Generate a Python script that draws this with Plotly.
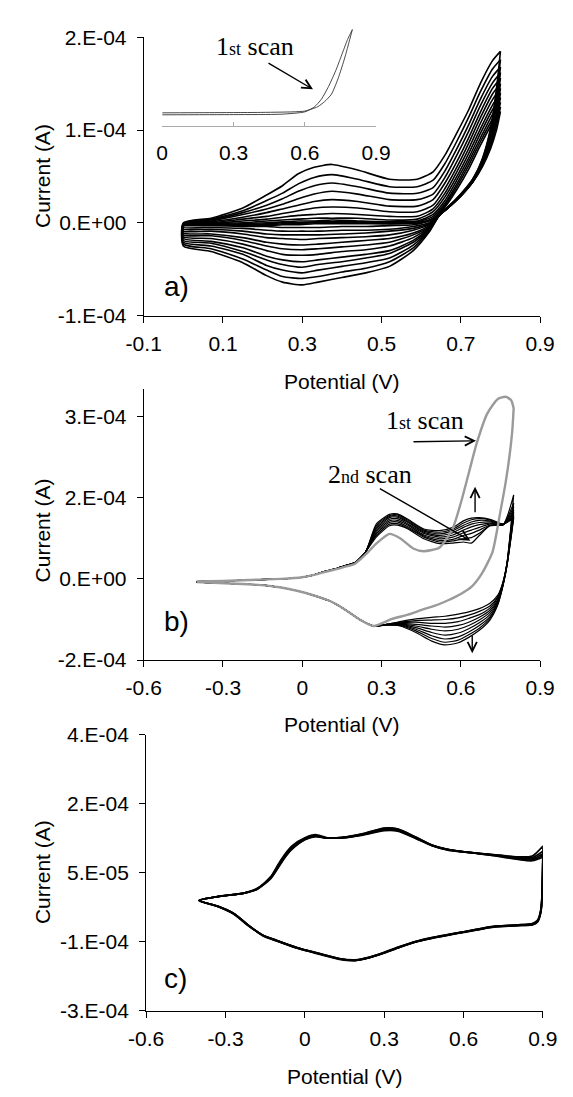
import plotly.graph_objects as go

W, H = 573, 1097

# ================= DATA (currents in units of 1e-4 A) =================
# ---- panel a : 12 successive cycles 0 -> 0.8 V ----
E_a_fwd = [0.0, 0.07, 0.15, 0.21, 0.25, 0.29, 0.33, 0.375, 0.44, 0.52, 0.59,
           0.63, 0.66, 0.69, 0.72, 0.75, 0.78, 0.8]
E_a_rev = [0.8, 0.79, 0.775, 0.755, 0.73, 0.70, 0.67, 0.65,
           0.62, 0.58, 0.52, 0.46, 0.40, 0.34, 0.30, 0.25, 0.21, 0.15, 0.07, 0.0]
I_a_fwd = [
    [-0.03, -0.03, -0.03, -0.03, -0.02, -0.02, -0.01, -0.01, -0.01, -0.01, 0.0, 0.04, 0.17, 0.36, 0.58, 0.84, 1.08, 1.20],
    [-0.03, -0.02, -0.02, -0.02, -0.01, -0.01, 0.0, 0.0, 0.0, -0.01, 0.0, 0.05, 0.19, 0.39, 0.62, 0.88, 1.12, 1.25],
    [-0.03, -0.02, -0.02, -0.01, 0.0, 0.0, 0.01, 0.01, 0.01, 0.0, 0.01, 0.07, 0.21, 0.42, 0.66, 0.92, 1.17, 1.30],
    [-0.03, -0.02, -0.01, 0.0, 0.01, 0.02, 0.02, 0.03, 0.02, 0.01, 0.02, 0.09, 0.24, 0.46, 0.70, 0.97, 1.22, 1.35],
    [-0.03, -0.01, 0.0, 0.02, 0.03, 0.04, 0.05, 0.05, 0.05, 0.03, 0.04, 0.12, 0.28, 0.50, 0.75, 1.02, 1.27, 1.40],
    [-0.03, -0.01, 0.02, 0.04, 0.06, 0.08, 0.09, 0.10, 0.09, 0.07, 0.07, 0.15, 0.32, 0.55, 0.80, 1.08, 1.33, 1.45],
    [-0.02, 0.0, 0.04, 0.07, 0.10, 0.13, 0.16, 0.17, 0.16, 0.12, 0.12, 0.19, 0.37, 0.60, 0.86, 1.14, 1.39, 1.50],
    [-0.02, 0.01, 0.06, 0.11, 0.15, 0.19, 0.23, 0.25, 0.23, 0.18, 0.18, 0.25, 0.43, 0.66, 0.92, 1.20, 1.45, 1.56],
    [-0.02, 0.02, 0.09, 0.15, 0.20, 0.26, 0.31, 0.34, 0.31, 0.25, 0.25, 0.31, 0.49, 0.73, 0.99, 1.27, 1.51, 1.62],
    [-0.01, 0.03, 0.11, 0.19, 0.26, 0.34, 0.40, 0.43, 0.39, 0.32, 0.32, 0.38, 0.56, 0.80, 1.06, 1.34, 1.58, 1.68],
    [-0.01, 0.04, 0.13, 0.24, 0.32, 0.42, 0.49, 0.52, 0.47, 0.39, 0.39, 0.46, 0.64, 0.88, 1.14, 1.42, 1.66, 1.76],
    [0.0, 0.05, 0.16, 0.30, 0.40, 0.53, 0.60, 0.63, 0.57, 0.47, 0.47, 0.55, 0.73, 0.97, 1.22, 1.51, 1.75, 1.85],
]
I_a_rev = [
    [1.20, 1.00, 0.80, 0.61, 0.44, 0.29, 0.17, 0.10, 0.02, -0.02, -0.03, -0.04, -0.04, -0.05, -0.05, -0.05, -0.04, -0.04, -0.03, -0.03],
    [1.25, 1.05, 0.82, 0.62, 0.44, 0.29, 0.17, 0.10, 0.0, -0.04, -0.07, -0.08, -0.08, -0.09, -0.09, -0.09, -0.08, -0.06, -0.05, -0.05],
    [1.30, 1.10, 0.84, 0.63, 0.44, 0.29, 0.17, 0.10, -0.01, -0.06, -0.09, -0.11, -0.12, -0.13, -0.13, -0.13, -0.12, -0.09, -0.07, -0.07],
    [1.35, 1.13, 0.86, 0.64, 0.44, 0.29, 0.17, 0.10, -0.02, -0.08, -0.13, -0.15, -0.16, -0.17, -0.18, -0.17, -0.16, -0.12, -0.09, -0.09],
    [1.40, 1.16, 0.88, 0.64, 0.45, 0.29, 0.17, 0.10, -0.03, -0.11, -0.17, -0.19, -0.21, -0.23, -0.24, -0.23, -0.21, -0.16, -0.12, -0.11],
    [1.45, 1.19, 0.90, 0.65, 0.45, 0.30, 0.17, 0.10, -0.04, -0.13, -0.21, -0.24, -0.26, -0.28, -0.29, -0.28, -0.25, -0.19, -0.14, -0.13],
    [1.50, 1.23, 0.92, 0.66, 0.45, 0.30, 0.17, 0.10, -0.05, -0.16, -0.25, -0.29, -0.31, -0.34, -0.35, -0.34, -0.30, -0.23, -0.17, -0.15],
    [1.56, 1.27, 0.94, 0.66, 0.46, 0.30, 0.17, 0.10, -0.06, -0.19, -0.30, -0.34, -0.37, -0.40, -0.42, -0.40, -0.36, -0.27, -0.20, -0.17],
    [1.62, 1.31, 0.96, 0.67, 0.46, 0.30, 0.18, 0.11, -0.07, -0.21, -0.33, -0.38, -0.42, -0.45, -0.48, -0.45, -0.40, -0.31, -0.22, -0.19],
    [1.68, 1.35, 0.98, 0.68, 0.46, 0.30, 0.18, 0.11, -0.08, -0.24, -0.38, -0.43, -0.47, -0.51, -0.54, -0.51, -0.46, -0.34, -0.25, -0.21],
    [1.76, 1.40, 1.00, 0.69, 0.47, 0.31, 0.18, 0.11, -0.09, -0.27, -0.42, -0.49, -0.53, -0.58, -0.60, -0.58, -0.51, -0.39, -0.28, -0.23],
    [1.85, 1.45, 1.02, 0.70, 0.47, 0.31, 0.18, 0.11, -0.10, -0.30, -0.47, -0.54, -0.59, -0.64, -0.67, -0.64, -0.57, -0.43, -0.31, -0.25],
]

# ---- inset (1st scan of panel a) ----
E_in_fwd = [0.0, 0.2, 0.4, 0.55, 0.6, 0.654, 0.683, 0.712, 0.74, 0.769, 0.8]
I_in_fwd = [0.05, 0.06, 0.07, 0.10, 0.14, 0.36, 0.62, 1.00, 1.80, 2.90, 4.30]
E_in_rev = [0.8, 0.78, 0.755, 0.73, 0.70, 0.67, 0.64, 0.6, 0.5, 0.3, 0.0]
I_in_rev = [4.30, 3.80, 3.00, 2.20, 1.40, 0.75, 0.35, 0.10, -0.02, -0.04, -0.05]

# ---- panel b : 1st scan (grey) + 9 further cycles (black) ----
E_b_fwd_common = [-0.4, -0.3, -0.2, -0.08, 0.0, 0.04, 0.08, 0.13, 0.16, 0.2, 0.24]
I_b_fwd_common = [-0.05, -0.04, -0.02, 0.0, 0.03, 0.07, 0.13, 0.19, 0.24, 0.30, 0.50]
E_b_rev_common = [0.27, 0.22, 0.16, 0.10, 0.04, -0.02, -0.08, -0.14, -0.25, -0.4]
I_b_rev_common = [-0.87, -0.76, -0.56, -0.40, -0.30, -0.22, -0.16, -0.12, -0.09, -0.06]

E_b_fwd = [0.28, 0.33, 0.36, 0.40, 0.46, 0.52, 0.57, 0.61, 0.64, 0.67, 0.71, 0.76, 0.80]
I_b_fwd = [
    [0.77, 0.98, 0.99, 0.92, 0.74, 0.65, 0.66, 0.68, 0.66, 0.80, 0.98, 1.00, 1.55],
    [0.80, 1.01, 1.02, 0.94, 0.77, 0.68, 0.70, 0.74, 0.76, 0.84, 0.98, 1.00, 1.40],
    [0.83, 1.04, 1.05, 0.96, 0.79, 0.71, 0.73, 0.80, 0.84, 0.90, 0.99, 1.00, 1.33],
    [0.86, 1.07, 1.08, 0.99, 0.81, 0.74, 0.77, 0.85, 0.90, 0.95, 1.01, 1.00, 1.27],
    [0.89, 1.10, 1.11, 1.01, 0.84, 0.77, 0.81, 0.90, 0.96, 1.00, 1.03, 1.00, 1.23],
    [0.92, 1.13, 1.14, 1.04, 0.86, 0.80, 0.85, 0.95, 1.01, 1.04, 1.05, 1.00, 1.19],
    [0.95, 1.15, 1.16, 1.06, 0.88, 0.83, 0.89, 0.99, 1.05, 1.08, 1.07, 1.01, 1.16],
    [0.98, 1.17, 1.18, 1.08, 0.90, 0.86, 0.92, 1.03, 1.09, 1.11, 1.09, 1.01, 1.14],
    [1.01, 1.19, 1.20, 1.10, 0.92, 0.89, 0.95, 1.07, 1.12, 1.13, 1.10, 1.01, 1.12],
]
E_b_rev = [0.80, 0.79, 0.775, 0.76, 0.74, 0.71, 0.67, 0.63, 0.59, 0.54, 0.49, 0.43, 0.37, 0.32]
I_b_rev = [
    [1.55, 1.00, 0.30, -0.05, -0.30, -0.45, -0.55, -0.61, -0.65, -0.69, -0.71, -0.74, -0.79, -0.84],
    [1.40, 0.95, 0.30, -0.06, -0.33, -0.50, -0.60, -0.67, -0.72, -0.75, -0.76, -0.77, -0.80, -0.84],
    [1.33, 0.92, 0.29, -0.07, -0.35, -0.54, -0.66, -0.73, -0.79, -0.82, -0.82, -0.80, -0.81, -0.84],
    [1.27, 0.88, 0.28, -0.08, -0.38, -0.58, -0.71, -0.80, -0.86, -0.89, -0.87, -0.84, -0.82, -0.84],
    [1.23, 0.85, 0.28, -0.09, -0.40, -0.62, -0.76, -0.86, -0.93, -0.96, -0.93, -0.87, -0.83, -0.84],
    [1.19, 0.82, 0.27, -0.10, -0.42, -0.66, -0.81, -0.92, -1.00, -1.04, -0.99, -0.90, -0.84, -0.85],
    [1.16, 0.80, 0.26, -0.10, -0.44, -0.70, -0.86, -0.98, -1.07, -1.11, -1.05, -0.93, -0.85, -0.85],
    [1.14, 0.77, 0.26, -0.11, -0.46, -0.73, -0.91, -1.03, -1.13, -1.17, -1.10, -0.96, -0.86, -0.85],
    [1.12, 0.75, 0.25, -0.12, -0.48, -0.76, -0.95, -1.08, -1.18, -1.22, -1.15, -0.99, -0.87, -0.85],
]
E_g_fwd = [-0.4, -0.3, -0.2, -0.08, 0.0, 0.04, 0.08, 0.13, 0.16, 0.2, 0.24, 0.28, 0.33, 0.37,
           0.42, 0.46, 0.52, 0.57, 0.6, 0.63, 0.66, 0.7, 0.74, 0.77, 0.79, 0.8]
I_g_fwd = [-0.05, -0.04, -0.02, 0.0, 0.03, 0.07, 0.12, 0.18, 0.22, 0.28, 0.45, 0.65, 0.83, 0.75,
           0.56, 0.51, 0.58, 0.94, 1.40, 1.95, 2.50, 3.05, 3.32, 3.36, 3.30, 3.15]
E_g_rev = [0.8, 0.795, 0.785, 0.77, 0.75, 0.72, 0.68, 0.64, 0.60, 0.55, 0.50, 0.46, 0.40, 0.34]
I_g_rev = [3.15, 2.75, 2.30, 1.79, 1.25, 0.50, 0.10, -0.15, -0.28, -0.40, -0.50, -0.56, -0.66, -0.74]

# ---- panel c : 5 nearly identical cycles -0.4 -> 0.9 V ----
E_c_fwd = [-0.4, -0.33, -0.23, -0.18, -0.13, -0.10, -0.075, -0.05, 0.0, 0.04, 0.08, 0.14, 0.22,
           0.3, 0.35, 0.42, 0.48, 0.54, 0.62, 0.72, 0.8, 0.86, 0.9]
I_c_fwd = [
    [-0.21, -0.11, -0.02, 0.10, 0.39, 0.72, 0.97, 1.17, 1.38, 1.46, 1.39, 1.38, 1.45, 1.56, 1.55, 1.36, 1.18, 1.07, 1.01, 0.95, 0.90, 0.92, 1.17],
    [-0.21, -0.11, -0.02, 0.09, 0.37, 0.69, 0.94, 1.14, 1.36, 1.44, 1.38, 1.38, 1.46, 1.58, 1.57, 1.37, 1.19, 1.08, 1.01, 0.95, 0.89, 0.88, 1.04],
    [-0.21, -0.11, -0.02, 0.09, 0.36, 0.67, 0.92, 1.12, 1.35, 1.43, 1.38, 1.38, 1.47, 1.60, 1.59, 1.38, 1.19, 1.08, 1.01, 0.94, 0.87, 0.85, 0.98],
    [-0.21, -0.11, -0.02, 0.08, 0.35, 0.65, 0.90, 1.10, 1.34, 1.42, 1.38, 1.39, 1.48, 1.62, 1.60, 1.39, 1.20, 1.09, 1.01, 0.93, 0.85, 0.82, 0.93],
    [-0.21, -0.11, -0.02, 0.08, 0.34, 0.63, 0.88, 1.08, 1.33, 1.41, 1.38, 1.39, 1.49, 1.63, 1.61, 1.40, 1.20, 1.09, 1.01, 0.92, 0.84, 0.80, 0.89],
]
E_c_rev = [0.9, 0.898, 0.893, 0.88, 0.86, 0.82, 0.77, 0.72, 0.60, 0.48, 0.42, 0.36, 0.30, 0.245,
           0.19, 0.13, 0.06, -0.03, -0.11, -0.16, -0.21, -0.27, -0.33, -0.4]
I_c_rev = [
    [1.17, 0.30, -0.40, -0.70, -0.79, -0.82, -0.84, -0.86, -1.00, -1.15, -1.24, -1.37, -1.52, -1.64, -1.71, -1.68, -1.56, -1.40, -1.21, -1.08, -0.87, -0.55, -0.36, -0.21],
    [1.04, 0.25, -0.42, -0.72, -0.80, -0.82, -0.84, -0.86, -1.00, -1.15, -1.25, -1.38, -1.53, -1.65, -1.72, -1.68, -1.56, -1.40, -1.21, -1.08, -0.86, -0.54, -0.36, -0.21],
    [0.98, 0.20, -0.44, -0.73, -0.81, -0.83, -0.85, -0.87, -1.01, -1.16, -1.25, -1.38, -1.53, -1.65, -1.72, -1.69, -1.57, -1.41, -1.22, -1.09, -0.86, -0.54, -0.35, -0.21],
    [0.93, 0.15, -0.46, -0.74, -0.82, -0.84, -0.85, -0.87, -1.01, -1.16, -1.26, -1.39, -1.54, -1.66, -1.73, -1.69, -1.57, -1.41, -1.22, -1.09, -0.85, -0.53, -0.35, -0.21],
    [0.89, 0.10, -0.48, -0.75, -0.83, -0.84, -0.86, -0.88, -1.02, -1.17, -1.26, -1.39, -1.54, -1.66, -1.73, -1.70, -1.58, -1.42, -1.23, -1.10, -0.85, -0.53, -0.35, -0.21],
]

# ---- axis ticks / labels ----
xt_a = [-0.1, 0.1, 0.3, 0.5, 0.7, 0.9]
xl_a = ["-0.1", "0.1", "0.3", "0.5", "0.7", "0.9"]
yt_a = [-1e-4, 0, 1e-4, 2e-4]
yl_a = ["-1.E-04", "0.E+00", "1.E-04", "2.E-04"]
xt_bc = [-0.6, -0.3, 0, 0.3, 0.6, 0.9]
xl_bc = ["-0.6", "-0.3", "0", "0.3", "0.6", "0.9"]
yt_b = [-1.5e-4, 0, 1.5e-4, 3e-4]
yl_b = ["-2.E-04", "0.E+00", "2.E-04", "3.E-04"]
yt_c = [-3e-4, -1.25e-4, 0.5e-4, 2.25e-4, 4e-4]
yl_c = ["-3.E-04", "-1.E-04", "5.E-05", "2.E-04", "4.E-04"]
xt_in = [0, 0.3, 0.6, 0.9]
xl_in = ["0", "0.3", "0.6", "0.9"]

# ================= FIGURE =================
SC = 1e-4
fig = go.Figure()


def px(v):
    return v / W


def py(v):
    return 1 - v / H


def add(xs, ys, xa, ya, color="black", width=1.3, smooth=0.7):
    fig.add_trace(go.Scatter(x=xs, y=[v * SC for v in ys], mode="lines",
                             line=dict(color=color, width=width, shape="spline", smoothing=smooth),
                             xaxis=xa, yaxis=ya, hoverinfo="skip", showlegend=False))


# panel a
for f, r in zip(I_a_fwd, I_a_rev):
    add(E_a_fwd + E_a_rev + [E_a_fwd[0]], f + r + [f[0]], "x", "y", width=1.6, smooth=0.6)
# inset
add(E_in_fwd + E_in_rev, I_in_fwd + I_in_rev, "x4", "y4", color="#333333", width=0.9, smooth=0.6)
# panel b
for f, r in zip(I_b_fwd, I_b_rev):
    add(E_b_fwd_common + E_b_fwd + E_b_rev + E_b_rev_common,
        I_b_fwd_common + f + r + I_b_rev_common, "x2", "y2", width=1.2, smooth=0.6)
add(E_g_fwd + E_g_rev + E_b_rev_common, I_g_fwd + I_g_rev + I_b_rev_common,
    "x2", "y2", color="#9a9a9a", width=2.4, smooth=0.6)
# panel c
for f, r in zip(I_c_fwd, I_c_rev):
    add(E_c_fwd + E_c_rev, f + r, "x3", "y3", width=1.7, smooth=0.7)

FONT = "Liberation Sans, Arial, sans-serif"
FS = 21
tickfont = dict(family=FONT, size=FS, color="black")


def xax(dom, rng, tv, tt, anchor):
    return dict(domain=dom, range=rng, tickvals=tv, ticktext=tt, anchor=anchor,
                showline=True, linecolor="black", linewidth=1, ticks="outside", ticklen=6,
                tickcolor="black", showgrid=False, zeroline=False, tickfont=tickfont,
                ticklabelstandoff=3)


def yax(dom, rng, tv, tt, anchor):
    return dict(domain=dom, range=rng, tickvals=tv, ticktext=tt, anchor=anchor,
                showline=True, linecolor="black", linewidth=1, ticks="outside", ticklen=6,
                tickcolor="black", showgrid=False, zeroline=False, tickfont=tickfont,
                ticklabelstandoff=6)


xa_dom = [px(133.4), px(554)]
xc_dom = [px(136), px(557)]
fig.update_layout(
    width=W, height=H, margin=dict(l=0, r=0, t=0, b=0),
    paper_bgcolor="white", plot_bgcolor="rgba(0,0,0,0)", showlegend=False,
    xaxis=xax(xa_dom, [-0.1, 0.9], xt_a, xl_a, "y"),
    yaxis=yax([py(310), py(26)], [-1e-4, 2e-4], yt_a, yl_a, "x"),
    xaxis2=xax(xa_dom, [-0.6, 0.9], xt_bc, xl_bc, "y2"),
    yaxis2=yax([py(662), py(385.3)], [-1.5e-4, 3.5e-4], yt_b, yl_b, "x2"),
    xaxis3=xax(xc_dom, [-0.6, 0.9], xt_bc, xl_bc, "y3"),
    yaxis3=yax([py(1020), py(738)], [-3e-4, 4e-4], yt_c, yl_c, "x3"),
    xaxis4=dict(domain=[px(153), px(380)], range=[0, 0.9], tickvals=xt_in, ticktext=xl_in,
                anchor="y4", showline=True, linecolor="#aaaaaa", linewidth=1, ticks="inside",
                ticklen=4, tickcolor="#aaaaaa", showgrid=False, zeroline=False,
                tickfont=tickfont, ticklabelstandoff=8),
    yaxis4=dict(domain=[py(116), py(12)], range=[-0.6e-4, 4.6e-4], visible=False, anchor="x4"),
)

ann = []
# axis titles
for yc in (168, 530, 879):
    ann.append(dict(x=px(26), y=py(yc), text="Current (A)", textangle=-90, showarrow=False,
                    font=dict(family=FONT, size=FS, color="black"),
                    xref="paper", yref="paper", xanchor="center", yanchor="middle"))
for xc, yc in ((343.5, 377), (343.5, 728), (346.5, 1087)):
    ann.append(dict(x=px(xc), y=py(yc), text="Potential (V)", showarrow=False,
                    font=dict(family=FONT, size=FS, color="black"),
                    xref="paper", yref="paper", xanchor="center", yanchor="middle"))
# panel letters
for t, xc, yc in (("a)", 168, 280), ("b)", 168, 623), ("c)", 167, 987)):
    ann.append(dict(x=px(xc), y=py(yc), text=t, showarrow=False,
                    font=dict(family=FONT, size=28, color="black"),
                    xref="paper", yref="paper", xanchor="center", yanchor="middle"))
SERIF = "Liberation Serif, Times New Roman, serif"
for t, xc, yc in (("1<span style='font-size:18px'>st</span> scan", 251, 35),
                  ("1<span style='font-size:18px'>st</span> scan", 432, 417),
                  ("2<span style='font-size:18px'>nd</span> scan", 373, 472)):
    ann.append(dict(x=px(xc), y=py(yc), text=t, showarrow=False,
                    font=dict(family=SERIF, size=26, color="black"),
                    xref="paper", yref="paper", xanchor="center", yanchor="middle"))
# arrows (head position, tail offset in pixels)
for hx, hy, axp, ayp in ((313, 79, -46, -27), (486, 438, -64, 1), (480, 540, -92, -53),
                         (485, 485, 0, 27), (482, 655, 0, -19)):
    ann.append(dict(x=px(hx), y=py(hy), xref="paper", yref="paper", text="", showarrow=True,
                    ax=axp, ay=ayp, arrowhead=5, arrowsize=1.3, arrowwidth=1.4,
                    arrowcolor="black", standoff=0))
fig.update_layout(annotations=ann)

fig.write_html("out.html")
